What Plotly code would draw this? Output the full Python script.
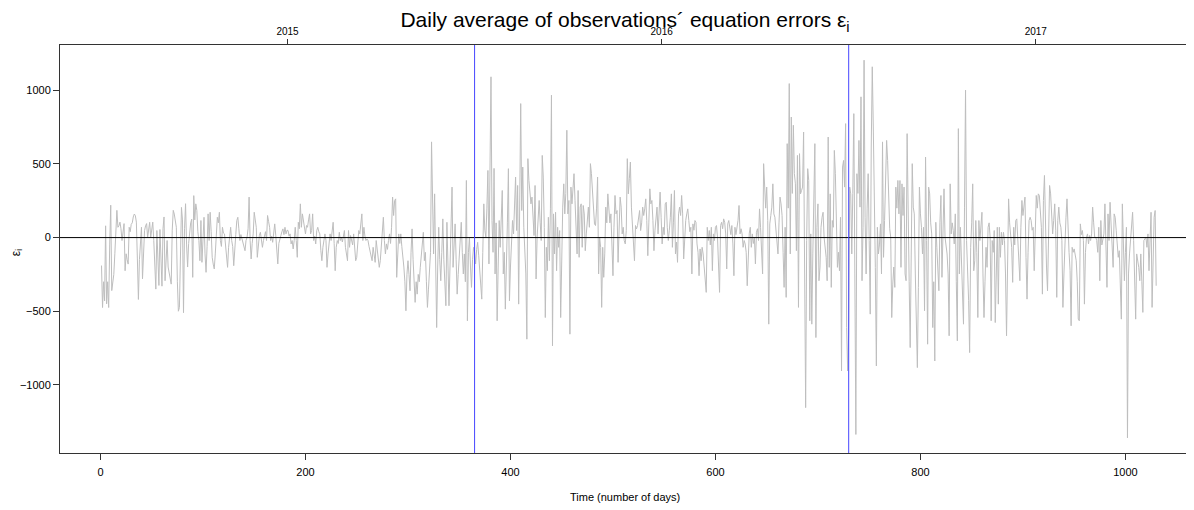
import plotly.graph_objects as go

seg1 = [-190, -475, -300, -430, 80, -450, -300, -475, -50, 220,
        -360, -300, -250, -110, 60, 185, 70, 80, 105, 60,
        -20, 25, 95, -225, -110, -150, -180, 70, 40, 90,
        100, 140, 160, 150, 105, -145, -420, -150, -20, 70,
        -280, -100, 48, 80, 95, 2, 60, 104, 2, 50,
        105, -20, -200, -350, 48, -150, -325, 55, -100, -330,
        60, 140, -293, -120, -20, -200, -250, -280, -316, 50,
        185, 160, 110, 70, -300, -500, -475, 48, 205, 120,
        -510, 60, 230, -50, -200, -40, 70, 100, 125, -270,
        285, 120]
seg2 = [229, 184, 40, -20, -157, 116, -168, 30, 138, -111,
        -236, -60, 161, -20, 172, 40, -134, -180, -213, -111,
        -20, 138, 100, 172, -20, -60, 70, 30, 25, -43,
        -120, -202, -66, -10, 70, -20, -60, -191, -111, 20,
        116, 138, 60, -20, 20, -9, -43, -60, -89, -20,
        2, 60, 275, -20, -145, -40, 25, 172, 120, 70,
        -134, -20, 14, 36, -10, -66, -20, 2, 40, -20,
        150, 110, 70, -20, 10, -32, 40, 93, 14, -60,
        -179, -40, -20, 14, 40, 59, 20, 70, 25, 50,
        48, 10, 25, -43, -20, -77, -20]
seg3 = [70, -20, -134, 104, 60, 229, 70, 161, 116, 40,
        25, 82, 70, 120, 161, 25, 48, 161, -20, 10,
        -43, 48, 70, 40, 25, -89, -157, -66, 0, 25,
        -20, -202, -111, -60, 25, -20, 70, 104, -40, -225,
        -66, -20, -40, 36, -20, 2, -30, 25, 48, -66,
        -100, -157, 48, -66, 14, -20, -50, 25, -80, -157,
        -134, -20, 48, 25, 90, 161, -20, 70, 10, -20,
        -9, -20, -60, -89, -111, -157, -66, -120, -168, -20,
        -100, -179, -202, -157, -60, 2, 138, -20, -111, -43,
        -80, -20, 25, -40, 70, 275, 150, 252]
seg4 = [263, -270, -100, 25, -40, 25, -60, -111, -200, -300,
        -497, -250, -157, -250, -361, -100, 59, -150, -300, -440,
        -300, -384, -250, -300, -202, -100, -20, 36, -157, -100,
        -300, -474, -350, -247, -100, 650, 200, -111, 297, -200,
        -611, -200, 70, -150, -293, -100, 127, -150, -300, -463,
        104, -150, -463, -200, 100, 343, -202, -50, 93, -150,
        -384, -250, -111, -50, 104, -100, -247, -111, -300, 388,
        -565, -100, 2, -200, -338, -150, -66, -100, -179, -80,
        -32, -120, -225, -300, -418, -100, 229, 50, 2, 200,
        456, -179, 300, 1092, 116, -100, 470]
seg5 = [-247, 100, -565, -200, 116, -66, 100, 320, -247, -100,
        -486, -247, 100, 468, -429, -200, -66, 116, 25, 200,
        411, 48, 354, -452, 207, 910, 184, 479, 70, -100,
        -247, -690, 536, 388, 300, 229, 275, 100, 14, 354,
        -281, 0, 116, 252, 100, -20, 558, 411, 70, -543,
        -66, -225, 138, -157, 200, 967, -735, 161, -111, 172,
        -225, 70, -66, 48, -543, 0, 207, 365, 161, 300,
        729, 161, 252, -656, 343, 229, 388, 434, 252, 100,
        -111, 320, -134, 207, 229, -66, 218, 161, -89, 25,
        100, 207, 70, 502, 434, 300, 161, 93]
seg6 = [82, 200, 411, -247, 2, -66, -474, -66, -270, -111,
        207, 100, 297, 207, 100, 161, -100, -259, 70, 286,
        161, 184, -168, 100, 275, 207, 25, 70, -20, -43,
        48, 536, 297, 400, 513, 207, 70, -20, -157, 82,
        59, 82, 130, 184, 48, 100, 207, 150, 195, 263,
        116, -123, 100, 331, 229, 252, 116, -89, 50, 138,
        207, 25, 150, 309, 138, -43, 70, 20, 229, 240,
        70, -20, 50, 138, 297, -66, 100, 320, -111, -30,
        -168, 161, 207, 150, 286, 161, -145, 50, 116, 161,
        195, 116, 40, 70, -247, 93, 50, 116]
seg7 = [104, -43, -100, -259, -77, -157, -66, -111, -225, -300,
        -372, 70, -20, 48, -50, 70, -225, 25, -20, 70,
        82, 2, -200, -372, 82, 104, 60, 127, 104, 25,
        -213, 93, 116, 70, 20, 82, -43, -259, 70, 20,
        70, 116, 218, 25, 60, 25, -66, -20, -43, -100,
        -327, -66, 30, 70, -66, 25, -40, 2, -179, 36,
        60, -20, 195, 70, -100, -247, 502, 354, 200, 343,
        116, -588, 93, 150, 207, 365, 161, 138, 50, -20,
        -111, 100, 275, 229, 150, -100, -338, 70, -406, 638,
        200, 1046, -111, 819, 300, 763, 434]
seg8 = [365, -89, 558, -474, 570, 297, 320, 343, 717, -20,
        -1155, -20, 468, 388, -565, 25, -588, -111, 300, 638,
        -679, 70, 229, -293, -200, 70, 138, 172, 2, -66,
        -134, -293, 683, -202, 297, -338, 116, 70, 592, 434,
        116, -202, -100, -225, 138, -906, 479, 524, 343, 774,
        -611, -906, -656, 343, 297, -111, 300, 842, -247, -1337,
        434, 300, 660, 207, 956, -293, 70, 1205, 138, -247,
        200, 434, -20, -520, 615, 1160, 751, 25, -202, -872,
        70, -111, -50, 93, -247, 650, -134, 116, 479, 660,
        524, 161, 60, 2, -543, -316, -200, -338]
seg9 = [343, 200, 388, 161, 388, -202, 365, 150, 343, -247,
        -293, 706, -20, -300, -747, 70, 502, 207, 161, -247,
        -500, -883, -338, 343, 161, 70, -111, 70, -497, 547,
        -20, -724, 343, 297, 100, 25, -611, -300, -838, 104,
        -66, -247, -361, 100, 286, -270, 161, 331, 2, -50,
        -111, -247, -667, 365, 25, 100, 48, -43, 161, -300,
        -701, 740, -247, 70, -200, -429, -588, 207, 1001, -20,
        -200, -429, -781, -66, 100, 365, -225, -157, 116, -100,
        -543, 116, -20, 50, 172, -247, -543, -300, -66, -202,
        70, 100, 2, -565, -20, -100, 48]
seg10 = [-577, -200, 70, -452, 70, -134, 36, -50, 36, -20,
         -247, -667, 25, 263, 100, 2, -66, -304, 70, -50,
         116, 127, -20, -150, -293, 70, 252, 150, 207, 275,
         -134, -418, -100, 116, 138, 116, 50, 70, -225, 161,
         286, 200, 297, 286, 150, 70, -384, 252, 422, -20,
         -200, -361, -20, 354, 297, 100, 25, 116, 229, 50,
         -406, 116, 207, 100, 70, -20, -474, -247, 50, 138,
         263, 48, -100, -225, -599, -66, -100, -77, -134, -157,
         -300, -554, -565, 93, 20, 48, -20, -452, -100, 2,
         25, -43, 14, -20, 25, 207, 100, 2]
seg11 = [2, -20, -100, 70, -293, 116, -50, 2, 25, 229,
         -100, -338, 161, -20, 240, 70, -100, -202, 161, 138,
         50, -20, -134, -89, -300, -554, 229, -157, -293, -100,
         70, -1360, -247, -111, -20, 50, 172, -20, -247, -554,
         -111, -150, -202, -293, -111, -300, -508, -20, -10, 2,
         -66, 25, -225, 50, 172, -474, -100, 138, 184, -327]

errors = seg1 + seg2 + seg3 + seg4 + seg5 + seg6 + seg7 + seg8 + seg9 + seg10 + seg11
days = list(range(1, len(errors) + 1))

year_bounds = [365, 730]
year_mid_days = [182.5, 547.5, 912.5]
year_labels = ["2015", "2016", "2017"]
x_ticks = [0, 200, 400, 600, 800, 1000]
y_ticks = [-1000, -500, 0, 500, 1000]

FONT = "Liberation Sans, Arial, Helvetica, sans-serif"
AX = "#333333"

# the page body adds an 8px offset, so the figure is sized to fit the 1194x510 window
W, H = 1186, 502

fig = go.Figure()
fig.add_trace(go.Scatter(x=days, y=errors, mode="lines",
                         line=dict(color="#BEBEBE", width=1),
                         hoverinfo="skip", showlegend=False))
fig.add_hline(y=0, line=dict(color="black", width=1))
for b in year_bounds:
    fig.add_vline(x=b, line=dict(color="#4646FF", width=1))
# carrier for the top (year) axis
fig.add_trace(go.Scatter(x=year_mid_days, y=[0] * len(year_mid_days), xaxis="x2",
                         mode="markers", marker=dict(opacity=0),
                         hoverinfo="skip", showlegend=False))

xr = [-39.5, 1063]
fig.update_layout(
    width=W, height=H,
    margin=dict(l=52, r=4, t=37, b=57, autoexpand=False),
    paper_bgcolor="white", plot_bgcolor="white",
    font=dict(family=FONT, size=11, color="black"),
    title=dict(text="Daily average of observations´ equation errors ε<sub>i</sub>",
               x=0.5, xref="paper", xanchor="center",
               y=1 - 12 / H, yanchor="middle",
               font=dict(family=FONT, size=21, color="black")),
    xaxis=dict(range=xr, tickvals=x_ticks, ticks="outside", ticklen=6,
               tickcolor=AX, showline=True, linecolor=AX, linewidth=1,
               mirror=True, showgrid=False, zeroline=False, automargin=False,
               ticklabelstandoff=3, tickfont=dict(size=11)),
    xaxis2=dict(range=xr, overlaying="x", side="top", tickvals=year_mid_days,
                ticktext=year_labels, ticks="outside", ticklen=5, tickcolor=AX,
                showline=False, showgrid=False, zeroline=False, automargin=False,
                tickfont=dict(size=10)),
    yaxis=dict(range=[-1463, 1308], tickvals=y_ticks, ticks="outside", ticklen=6,
               tickcolor=AX, showline=True, linecolor=AX, linewidth=1,
               mirror=True, showgrid=False, zeroline=False, automargin=False,
               tickfont=dict(size=11)),
    annotations=[
        dict(text="Time (number of days)", xref="paper", yref="paper",
             x=0.5, y=-0.108, xanchor="center", yanchor="middle",
             showarrow=False, font=dict(size=11)),
        dict(text="ε<sub>i</sub>", xref="paper", yref="paper",
             x=-0.038, y=0.49, xanchor="center", yanchor="middle",
             textangle=-90, showarrow=False, font=dict(size=12)),
    ],
)

fig.write_html("out.html")
